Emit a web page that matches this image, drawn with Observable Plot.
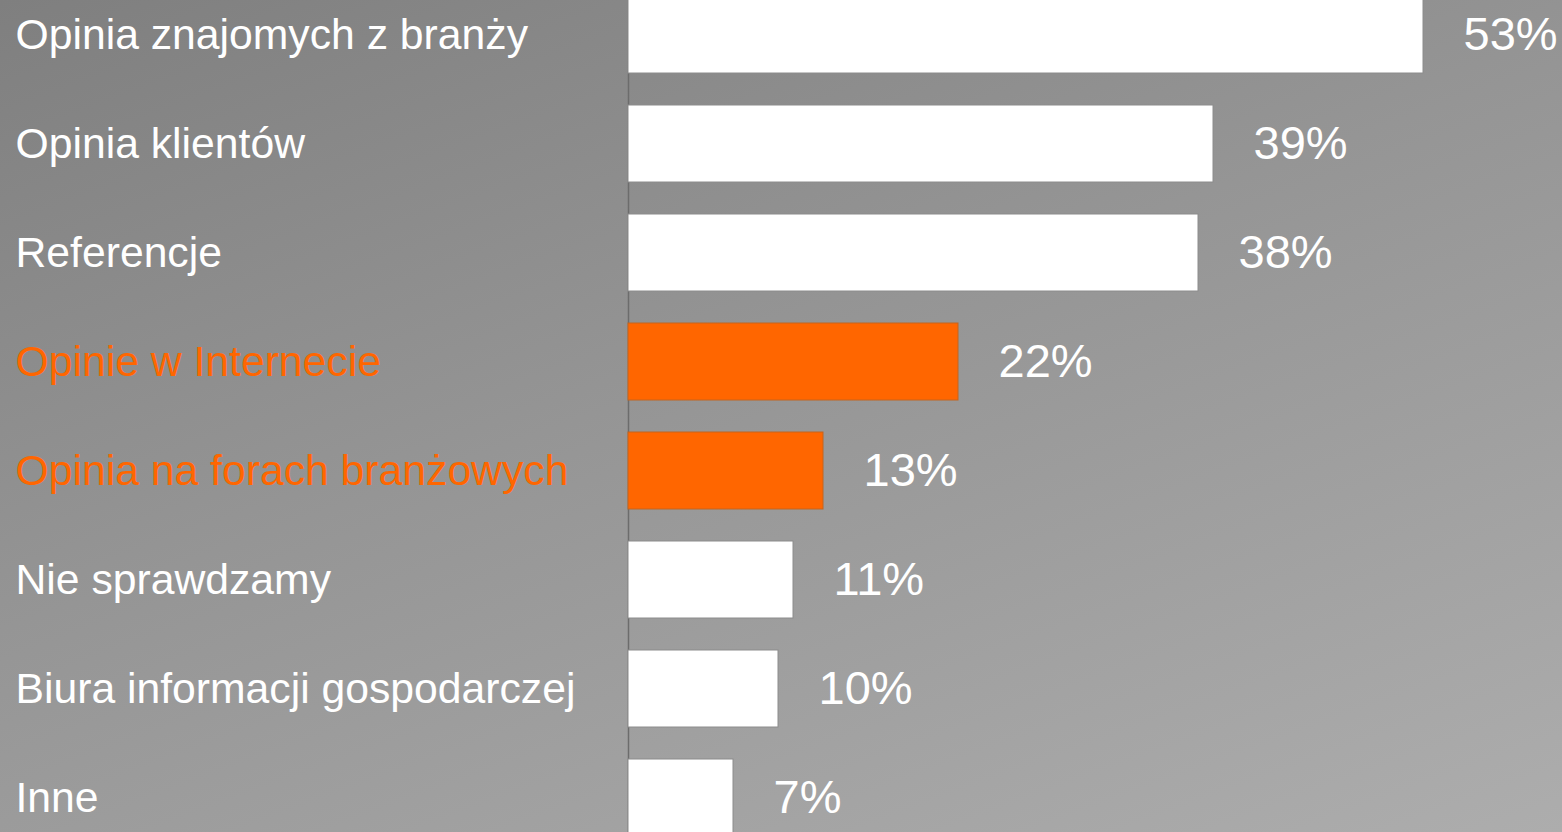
<!DOCTYPE html>
<html>
<head>
<meta charset="utf-8">
<script src="https://cdn.jsdelivr.net/npm/d3@7"></script>
<script src="https://cdn.jsdelivr.net/npm/@observablehq/plot@0.6"></script>
<style>
  html, body { margin: 0; padding: 0; overflow: hidden; }
  #chart {
    width: 1562px; height: 832px; overflow: hidden;
    background: linear-gradient(160deg, #7f7f7f 0%, #959595 45%, #adadad 100%);
  }
  #chart svg { display: block; overflow: hidden; }
</style>
</head>
<body>
<div id="chart"></div>
<script>
const categories = [
  "Opinia znajomych z branży",
  "Opinia klientów",
  "Referencje",
  "Opinie w Internecie",
  "Opinia na forach branżowych",
  "Nie sprawdzamy",
  "Biura informacji gospodarczej",
  "Inne"
];
const values = [53, 39, 38, 22, 13, 11, 10, 7];
const highlighted = ["Opinie w Internecie", "Opinia na forach branżowych"];

const data = categories.map((c, i) => ({label: c, value: values[i], hi: highlighted.includes(c)}));
const ORANGE = "#ff6600";
const FONT = "'Liberation Sans', Arial, Helvetica, sans-serif";

const chart = Plot.plot({
  width: 1562,
  height: 832,
  marginTop: 0, marginBottom: 0, marginLeft: 0, marginRight: 0,
  style: {background: "transparent", fontFamily: FONT},
  x: {domain: [0, 53], range: [628, 1423], axis: null},
  y: {type: "band", domain: categories, range: [-37.4, 868.4], padding: 0.295, axis: null},
  marks: [
    Plot.ruleX([0], {stroke: "#6c6c6c", strokeWidth: 1.5}),
    Plot.barX(data, {
      y: "label", x: "value",
      fill: d => d.hi ? ORANGE : "#ffffff",
      stroke: d => d.hi ? "#c4641e" : "#8c8c8c",
      strokeWidth: 1
    }),
    Plot.text(data, {
      y: "label", frameAnchor: "left", text: "label",
      textAnchor: "start", dx: 15, fontSize: 42.7,
      fill: d => d.hi ? ORANGE : "#ffffff"
    }),
    Plot.text(data, {
      y: "label", x: "value", text: d => d.value + "%",
      textAnchor: "start", dx: 40, fontSize: 47, fill: "#ffffff"
    })
  ]
});
document.getElementById("chart").appendChild(chart);
</script>
</body>
</html>
